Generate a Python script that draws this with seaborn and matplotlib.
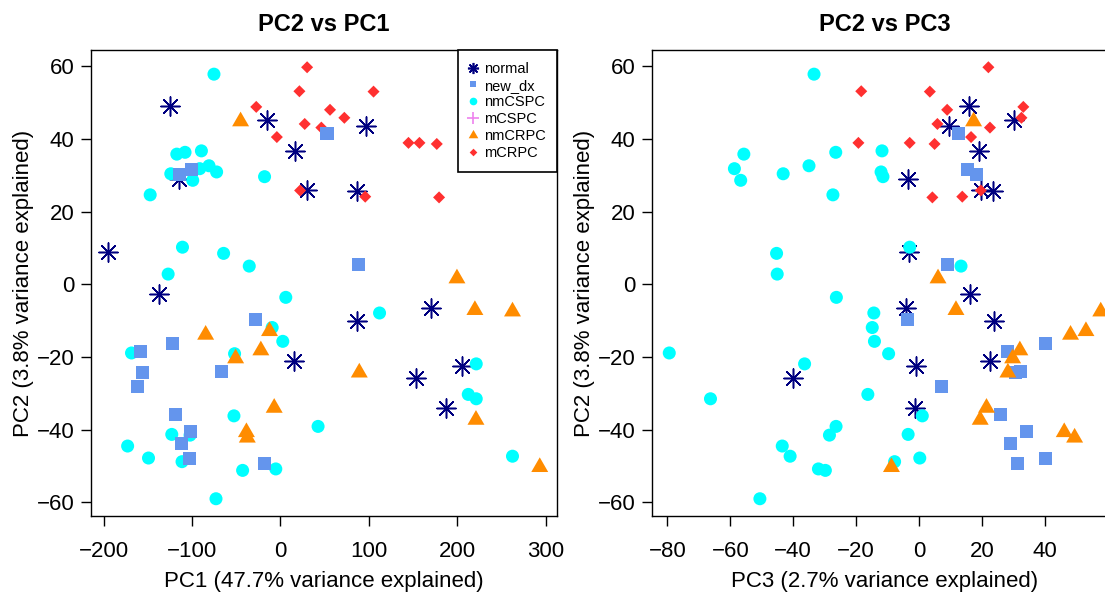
import matplotlib
matplotlib.use("Agg")
import matplotlib.pyplot as plt
from matplotlib.lines import Line2D
import numpy as np
import pandas as pd
import seaborn as sns

# ---- sample scores on the first three principal components, by clinical group ----
groups = ["normal", "new_dx", "nmCSPC", "mCSPC", "nmCRPC", "mCRPC"]
group_colors = ["#000080", "#6495ED", "#00FFFF", "#EE82EE", "#FF8C00", "#FF3030"]

normal_pc1 = [-124.8, 97.0, -14.7, 16.5, -114.6, 29.7, 86.4, -194.7, 169.9, -137.9, 86.0, 205.5, 15.4, 187.1, 153.7]
normal_pc2 = [49.1, 43.6, 45.1, 36.6, 28.9, 25.8, 25.7, 9.0, -6.5, -2.6, -10.1, -22.6, -21.2, -33.9, -25.7]
normal_pc3 = [15.9, 9.6, 30.2, 19.0, -3.7, 19.8, 23.4, -3.1, -4.2, 16.0, 23.7, -1.0, 22.6, -1.4, -40.2]

new_dx_pc1 = [52.6, -101.1, -114.6, 88.3, -27.8, -122.5, -158.6, -66.2, -156.4, -162.0, -119.2, -102.2, -112.4, -103.4, -17.7]
new_dx_pc2 = [41.5, 31.6, 30.1, 5.4, -9.8, -16.4, -18.6, -24.1, -24.4, -28.2, -35.9, -40.6, -43.9, -47.8, -49.4]
new_dx_pc3 = [12.4, 15.5, 18.2, 9.1, -3.8, 40.0, 28.0, 32.2, 30.5, 7.2, 25.9, 34.2, 29.0, 40.3, 31.1]

nmCSPC_pc1 = [-75.2, -117.2, -107.9, -89.4, -80.8, -72.2, -91.3, -124.0, -99.2, -147.3, -18.0, -110.8,
              -64.3, -35.3, -127.0, 6.0, -9.4, 2.6, -168.4, -51.9, -52.6, 42.5, -122.9, -102.2, -172.8,
              -149.2, -111.3, -5.3, -42.8, -72.9, 112.0, 221.3, 212.3, 221.3, 262.3]
nmCSPC_pc2 = [57.8, 35.8, 36.3, 36.7, 32.6, 30.9, 31.8, 30.4, 28.6, 24.6, 29.6, 10.2,
              8.5, 5.0, 2.8, -3.6, -11.9, -15.7, -18.9, -19.1, -36.2, -39.1, -41.3, -41.5, -44.5,
              -47.8, -48.8, -50.8, -51.2, -59.0, -7.9, -21.9, -30.3, -31.5, -47.3]
nmCSPC_pc3 = [-33.4, -55.7, -26.5, -11.8, -35.0, -12.1, -58.7, -43.2, -56.7, -27.4, -11.5, -3.0,
              -45.3, 13.3, -45.1, -26.3, -14.9, -14.2, -79.4, -9.7, 1.0, -26.4, -3.5, -28.5, -43.5,
              0.2, -7.8, -32.0, -29.8, -50.6, -14.4, -36.4, -16.3, -66.3, -41.0]

mCSPC_pc1 = []
mCSPC_pc2 = []
mCSPC_pc3 = []

nmCRPC_pc1 = [-45.1, 199.5, 219.8, 262.3, -12.4, -84.6, -50.7, -22.2, 89.1, -7.1, -38.5, -37.5, 221.0, 293.1]
nmCRPC_pc2 = [44.8, 1.6, -7.1, -7.5, -12.9, -13.9, -20.4, -18.2, -24.3, -34.0, -40.7, -42.2, -37.3, -50.3]
nmCRPC_pc3 = [17.3, 6.0, 11.7, 57.7, 53.0, 48.1, 29.7, 32.0, 28.2, 21.4, 46.1, 49.4, 19.4, -8.8]

mCRPC_pc1 = [30.1, 21.4, 105.2, -27.4, 56.0, 72.2, 27.4, 46.2, -4.1, 144.7, 157.1, 176.7, 22.2, 95.8, 179.3]
mCRPC_pc2 = [59.7, 53.1, 53.0, 48.8, 48.0, 45.8, 44.1, 43.1, 40.5, 38.9, 38.9, 38.6, 25.8, 24.1, 23.9]
mCRPC_pc3 = [22.0, -18.4, 3.4, 33.1, 8.9, 32.5, 5.8, 22.5, 16.5, -19.3, -3.0, 4.9, 19.6, 13.7, 4.2]

pc1_var, pc2_var, pc3_var = 47.7, 3.8, 2.7

scores = {
    "normal": (normal_pc1, normal_pc2, normal_pc3),
    "new_dx": (new_dx_pc1, new_dx_pc2, new_dx_pc3),
    "nmCSPC": (nmCSPC_pc1, nmCSPC_pc2, nmCSPC_pc3),
    "mCSPC": (mCSPC_pc1, mCSPC_pc2, mCSPC_pc3),
    "nmCRPC": (nmCRPC_pc1, nmCRPC_pc2, nmCRPC_pc3),
    "mCRPC": (mCRPC_pc1, mCRPC_pc2, mCRPC_pc3),
}
frames = []
for g, (a, b, c) in scores.items():
    frames.append(pd.DataFrame({"group": g, "PC1": a, "PC2": b, "PC3": c}))
samples = pd.concat(frames, ignore_index=True)

# ---- marker styles (R-like pch 8, 15, 16, 3, 17, 18) ----
tri = [(0.0, 1.0), (-0.866, -0.5), (0.866, -0.5), (0.0, 1.0)]
dia = [(0.0, 1.0), (1.0, 0.0), (0.0, -1.0), (-1.0, 0.0), (0.0, 1.0)]
markers = {"normal": (8, 2, 0), "new_dx": "s", "nmCSPC": "o", "mCSPC": "+", "nmCRPC": tri, "mCRPC": dia}
sizes = {"normal": 190, "new_dx": 88, "nmCSPC": 88, "mCSPC": 120, "nmCRPC": 199, "mCRPC": 75}
line_art = {"normal", "mCSPC"}
color_of = dict(zip(groups, group_colors))
draw_order = ["normal", "nmCSPC", "mCRPC", "new_dx", "nmCRPC"]

sns.set_theme(style="white")
plt.rcParams["font.family"] = ["Liberation Sans", "DejaVu Sans"]
plt.rcParams["axes.unicode_minus"] = True
plt.rcParams["text.color"] = "black"
plt.rcParams["axes.labelcolor"] = "black"
plt.rcParams["xtick.color"] = "black"
plt.rcParams["ytick.color"] = "black"

fig = plt.figure(figsize=(11.05, 6.04), dpi=100)
ax_left = fig.add_axes([91 / 1105, 1 - 516 / 604, 466 / 1105, 466 / 604])
ax_right = fig.add_axes([652 / 1105, 1 - 516 / 604, 466 / 1105, 466 / 604])


def padded(values, frac=0.04):
    lo, hi = float(np.min(values)), float(np.max(values))
    span = hi - lo
    return lo - frac * span, hi + frac * span


def draw_panel(ax, xcol, title, xlabel, xticks):
    for g in draw_order:
        sub = samples[samples["group"] == g]
        if sub.empty:
            continue
        kw = {"linewidth": 1.1} if g in line_art else {"linewidth": 0, "edgecolor": "none"}
        sns.scatterplot(data=sub, x=xcol, y="PC2", color=color_of[g], marker=markers[g],
                        s=sizes[g], ax=ax, legend=False, **kw)
    ax.set_xlim(*padded(samples[xcol]))
    ax.set_ylim(*padded(samples["PC2"]))
    ax.set_xticks(xticks)
    ax.set_yticks([-60, -40, -20, 0, 20, 40, 60])
    ax.set_title(title, fontsize=17, fontweight="bold", pad=14, color="black")
    ax.set_xlabel(xlabel, fontsize=16, color="black")
    ax.set_ylabel(f"PC2 ({pc2_var}% variance explained)", fontsize=16, color="black")
    ax.xaxis.set_label_coords(0.5, -0.118)
    ax.yaxis.set_label_coords(-0.122, 0.5)
    ax.tick_params(axis="both", which="major", direction="out", length=7, width=1,
                   color="black", labelcolor="black", labelsize=16, left=True, bottom=True)
    ax.tick_params(axis="x", pad=11)
    ax.tick_params(axis="y", pad=5)
    for sp in ax.spines.values():
        sp.set_visible(True)
        sp.set_color("black")
        sp.set_linewidth(1.0)
    ax.grid(False)


draw_panel(ax_left, "PC1", "PC2 vs PC1", f"PC1 ({pc1_var}% variance explained)",
           [-200, -100, 0, 100, 200, 300])
draw_panel(ax_right, "PC3", "PC2 vs PC3", f"PC3 ({pc3_var}% variance explained)",
           [-80, -60, -40, -20, 0, 20, 40])

legend_sizes = {"normal": 8, "new_dx": 5, "nmCSPC": 5.5, "mCSPC": 9, "nmCRPC": 8, "mCRPC": 5.5}
handles = []
for g in groups:
    m = markers[g]
    if g in line_art:
        h = Line2D([], [], linestyle="none", marker=m, color=color_of[g],
                   markersize=legend_sizes[g], markeredgewidth=1.2)
    else:
        h = Line2D([], [], linestyle="none", marker=m, color=color_of[g],
                   markersize=legend_sizes[g], markeredgewidth=0)
    handles.append(h)
leg = ax_left.legend(handles, groups, loc="upper right", bbox_to_anchor=(1, 1), borderaxespad=0,
                     fontsize=10.5, frameon=True, fancybox=False, handlelength=0.5,
                     handletextpad=0.45, labelspacing=0.2, borderpad=0.8)
leg.get_frame().set_edgecolor("black")
leg.get_frame().set_linewidth(1.2)
leg.get_frame().set_alpha(1)
for t in leg.get_texts():
    t.set_color("black")

fig.savefig("out.png", dpi=100)
